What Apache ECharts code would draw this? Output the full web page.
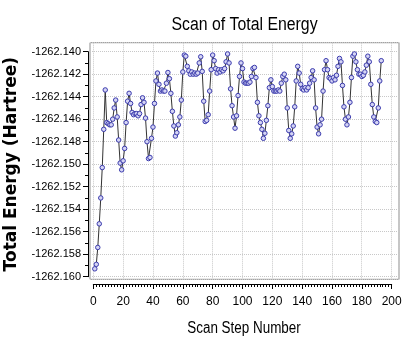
<!DOCTYPE html>
<html><head><meta charset="utf-8">
<script src="https://cdn.jsdelivr.net/npm/echarts@6/dist/echarts.min.js"></script>
<style>html,body{margin:0;padding:0;background:#fff}#c{width:416px;height:349px}</style>
</head><body><div id="c"></div>
<script>
// Total energy (Hartree) per scan step
const energies = [
-1262.1593,-1262.1589,-1262.1574,-1262.1553,-1262.1530,-1262.1503,-1262.1469,-1262.1434,-1262.1463,-1262.1464,
-1262.1465,-1262.1465,-1262.1460,-1262.1450,-1262.1443,-1262.1458,-1262.14785,-1262.1499,-1262.1505,-1262.1497,
-1262.1486,-1262.1463,-1262.1444,-1262.1437,-1262.1446,-1262.1454,-1262.1456,-1262.1455,-1262.1455,-1262.1457,
-1262.1455,-1262.1447,-1262.1441,-1262.1445,-1262.1459,-1262.1480,-1262.1495,-1262.1494,-1262.1477,-1262.1467,
-1262.1446,-1262.1426,-1262.1419,-1262.1429,-1262.1435,-1262.1434,-1262.1435,-1262.1435,-1262.1428,-1262.14185,
-1262.1424,-1262.1437,-1262.1453,-1262.1466,-1262.1475,-1262.1472,-1262.1465,-1262.1458,-1262.1443,-1262.1418,
-1262.1403,-1262.1404,-1262.1413,-1262.1417,-1262.1420,-1262.1418,-1262.1420,-1262.1419,-1262.1420,-1262.1419,
-1262.1410,-1262.14045,-1262.14175,-1262.1444,-1262.1462,-1262.1461,-1262.1456,-1262.1435,-1262.1416,-1262.1403,
-1262.1408,-1262.1415,-1262.1419,-1262.1416,-1262.1418,-1262.1416,-1262.1417,-1262.1415,-1262.1409,-1262.1402,
-1262.1410,-1262.1433,-1262.1448,-1262.1458,-1262.1468,-1262.1457,-1262.1439,-1262.1422,-1262.1410,-1262.1415,
-1262.1427,-1262.1428,-1262.1428,-1262.1428,-1262.1427,-1262.1422,-1262.1415,-1262.1414,-1262.1423,-1262.1445,
-1262.1457,-1262.1463,-1262.1469,-1262.1477,-1262.14725,-1262.1461,-1262.1448,-1262.1432,-1262.1425,-1262.1431,
-1262.1435,-1262.1435,-1262.1435,-1262.1434,-1262.1435,-1262.1428,-1262.1422,-1262.1420,-1262.1425,-1262.1450,
-1262.1470,-1262.1477,-1262.1473,-1262.1466,-1262.1449,-1262.1426,-1262.1413,-1262.1419,-1262.1429,-1262.1433,
-1262.1434,-1262.1432,-1262.1434,-1262.1432,-1262.1428,-1262.1423,-1262.1417,-1262.1425,-1262.1450,-1262.1467,
-1262.1473,-1262.1465,-1262.1460,-1262.1435,-1262.1416,-1262.1408,-1262.1416,-1262.1423,-1262.1424,-1262.1426,
-1262.1423,-1262.1425,-1262.1421,-1262.1413,-1262.1406,-1262.1409,-1262.1430,-1262.1449,-1262.1460,-1262.1465,
-1262.1458,-1262.1445,-1262.1423,-1262.1404,-1262.1402,-1262.1409,-1262.1416,-1262.1420,-1262.1420,-1262.1422,
-1262.1421,-1262.1418,-1262.1412,-1262.1404,-1262.1409,-1262.1429,-1262.1447,-1262.1458,-1262.1462,-1262.1463,
-1262.1450,-1262.1426,-1262.1408
];
const steps = energies.map((_, i) => i + 1);
const titleText = 'Scan of Total Energy';
const xName = 'Scan Step Number';
const yName = 'Total Energy (Hartree)';

const sans = "'Liberation Sans',Arial,sans-serif";
const chart = echarts.init(document.getElementById('c'), null, {renderer: 'canvas'});
chart.setOption({
  animation: false,
  backgroundColor: '#fff',
  graphic: [
    {type: 'text', x: 244.5, y: 25, scaleX: 0.88,
     style: {text: titleText, fill: '#000', font: "normal 18px " + sans,
             align: 'center', verticalAlign: 'middle', textAlign: 'center', textVerticalAlign: 'middle'}},
    {type: 'text', x: 244, y: 329, scaleX: 0.84,
     style: {text: xName, fill: '#000', font: "normal 16px " + sans,
             align: 'center', verticalAlign: 'middle', textAlign: 'center', textVerticalAlign: 'middle'}}
  ],
  grid: [
    {left: 90, right: 17, top: 42.7, bottom: 69.7, show: true, borderColor: '#8c8c8c', borderWidth: 1,
     backgroundColor: 'transparent', outerBoundsMode: 'none', containLabel: false},
    {left: 93.3, right: 24.3, top: 51.7, bottom: 72.3, outerBoundsMode: 'none', containLabel: false}
  ],
  xAxis: [
    {gridIndex: 0, type: 'value', min: -2.21, max: 205.0, splitNumber: 10,
     axisLine: {show: false}, axisTick: {show: false}, axisLabel: {show: false},
     splitLine: {show: true, lineStyle: {color: '#c8c8c8', type: 'dotted', width: 1}}},
    {gridIndex: 1, type: 'value', min: 0, max: 200, interval: 20, offset: 7.3, position: 'bottom',
     axisLine: {show: true, onZero: false, lineStyle: {color: '#000', width: 1}},
     axisTick: {show: true, length: 5, lineStyle: {color: '#000'}},
     minorTick: {show: true, splitNumber: 10, length: 3, lineStyle: {color: '#000'}},
     splitLine: {show: false},
     axisLabel: {margin: 12, fontFamily: sans, fontSize: 12, color: '#000'}}
  ],
  yAxis: [
    {gridIndex: 0, type: 'value', min: -1262.16023, max: -1262.1392, splitNumber: 10, scale: true,
     axisLine: {show: false}, axisTick: {show: false}, axisLabel: {show: false},
     splitLine: {show: true, lineStyle: {color: '#c8c8c8', type: 'dotted', width: 1}}},
    {gridIndex: 1, type: 'value', min: -1262.160, max: -1262.140, interval: 0.002, offset: 5.3, scale: true,
     axisLine: {show: true, onZero: false, lineStyle: {color: '#000', width: 1}},
     axisTick: {show: true, length: 5, lineStyle: {color: '#000'}},
     minorTick: {show: true, splitNumber: 2, length: 3, lineStyle: {color: '#000'}},
     splitLine: {show: false},
     axisLabel: {margin: 7, fontFamily: sans, fontSize: 11, color: '#000',
                 formatter: v => v.toFixed(3)},
     name: yName, nameLocation: 'middle', nameGap: 52, nameRotate: 90,
     nameTextStyle: {fontFamily: "'DejaVu Sans',sans-serif", fontSize: 17, fontWeight: 'bold', color: '#000'}}
  ],
  series: [{
    type: 'line', xAxisIndex: 1, yAxisIndex: 1, clip: false,
    data: steps.map((s, i) => [s, energies[i]]),
    symbol: 'circle', symbolSize: 4.5,
    lineStyle: {color: '#333', width: 1},
    itemStyle: {color: '#d4d4f4', borderColor: '#3c3cae', borderWidth: 1}
  }]
});
</script></body></html>
